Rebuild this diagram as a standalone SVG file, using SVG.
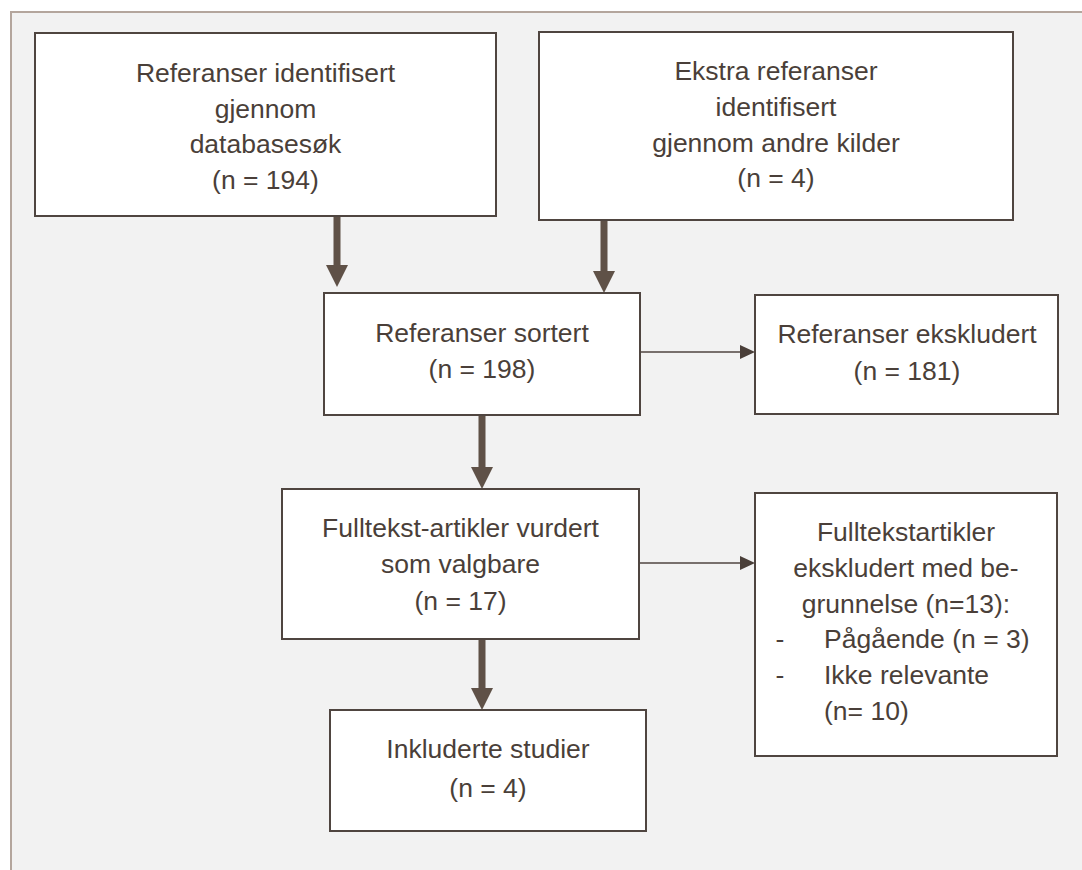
<svg xmlns="http://www.w3.org/2000/svg" width="1082" height="870" viewBox="0 0 1082 870">
  <style>
    .box { fill: #ffffff; stroke: #4f4540; stroke-width: 2; }
    .t { font-family: "Liberation Sans", Arial, sans-serif; font-size: 26.5px; fill: #4a3f39; text-anchor: middle; }
    .tl { text-anchor: start; }
    .thick { stroke: #5f5147; stroke-width: 7; fill: none; }
    .thin { stroke: #4f4540; stroke-width: 1.6; fill: none; }
  </style>
  <defs>
    <marker id="headThick" markerUnits="userSpaceOnUse" markerWidth="22" markerHeight="22" viewBox="0 0 22 22" refX="0" refY="11" orient="auto">
      <path d="M0,0 L22,11 L0,22 Z" fill="#5f5147"/>
    </marker>
    <marker id="headThin" markerUnits="userSpaceOnUse" markerWidth="15" markerHeight="14" viewBox="0 0 15 14" refX="0" refY="7" orient="auto">
      <path d="M0,0 L15,7 L0,14 Z" fill="#4a3f39"/>
    </marker>
  </defs>
  <rect x="0" y="0" width="1082" height="870" fill="#ffffff"/>
  <rect x="11" y="12" width="1090" height="880" fill="#f2f2f2" stroke="#b4a69d" stroke-width="2"/>

  <g id="connectors">
    <line class="thick" x1="337" y1="216" x2="337" y2="265" marker-end="url(#headThick)"/>
    <line class="thick" x1="604" y1="220" x2="604" y2="271" marker-end="url(#headThick)"/>
    <line class="thick" x1="482" y1="415" x2="482" y2="467" marker-end="url(#headThick)"/>
    <line class="thick" x1="482" y1="639" x2="482" y2="688" marker-end="url(#headThick)"/>
    <line class="thin" x1="640" y1="352" x2="740" y2="352" marker-end="url(#headThin)"/>
    <line class="thin" x1="639" y1="563" x2="740" y2="563" marker-end="url(#headThin)"/>
  </g>

  <g id="n1">
    <rect class="box" x="35" y="33" width="461" height="183"/>
    <text class="t" x="265.5" y="82">Referanser identifisert</text>
    <text class="t" x="265.5" y="117.5">gjennom</text>
    <text class="t" x="265.5" y="153">databasesøk</text>
    <text class="t" x="265.5" y="188.5">(n = 194)</text>
  </g>

  <g id="n2">
    <rect class="box" x="539" y="32" width="474" height="188"/>
    <text class="t" x="776" y="80">Ekstra referanser</text>
    <text class="t" x="776" y="116">identifisert</text>
    <text class="t" x="776" y="152">gjennom andre kilder</text>
    <text class="t" x="776" y="187">(n = 4)</text>
  </g>

  <g id="n3">
    <rect class="box" x="324" y="293" width="316" height="122"/>
    <text class="t" x="482" y="342">Referanser sortert</text>
    <text class="t" x="482" y="378">(n = 198)</text>
  </g>

  <g id="n4">
    <rect class="box" x="755" y="295" width="303" height="119"/>
    <text class="t" x="907" y="343">Referanser ekskludert</text>
    <text class="t" x="907" y="380">(n = 181)</text>
  </g>

  <g id="n5">
    <rect class="box" x="282" y="489" width="357" height="150"/>
    <text class="t" x="460.5" y="537">Fulltekst-artikler vurdert</text>
    <text class="t" x="460.5" y="573">som valgbare</text>
    <text class="t" x="460.5" y="610">(n = 17)</text>
  </g>

  <g id="n6">
    <rect class="box" x="755" y="493" width="302" height="263"/>
    <text class="t" x="906" y="541">Fulltekstartikler</text>
    <text class="t" x="906" y="577">ekskludert med be-</text>
    <text class="t" x="906" y="613">grunnelse (n=13):</text>
    <text class="t" x="780" y="648">-</text>
    <text class="t tl" x="824" y="648">Pågående (n = 3)</text>
    <text class="t" x="780" y="684">-</text>
    <text class="t tl" x="824" y="684">Ikke relevante</text>
    <text class="t tl" x="824" y="720">(n= 10)</text>
  </g>

  <g id="n7">
    <rect class="box" x="330" y="710" width="316" height="121"/>
    <text class="t" x="488" y="758">Inkluderte studier</text>
    <text class="t" x="488" y="797">(n = 4)</text>
  </g>
</svg>
